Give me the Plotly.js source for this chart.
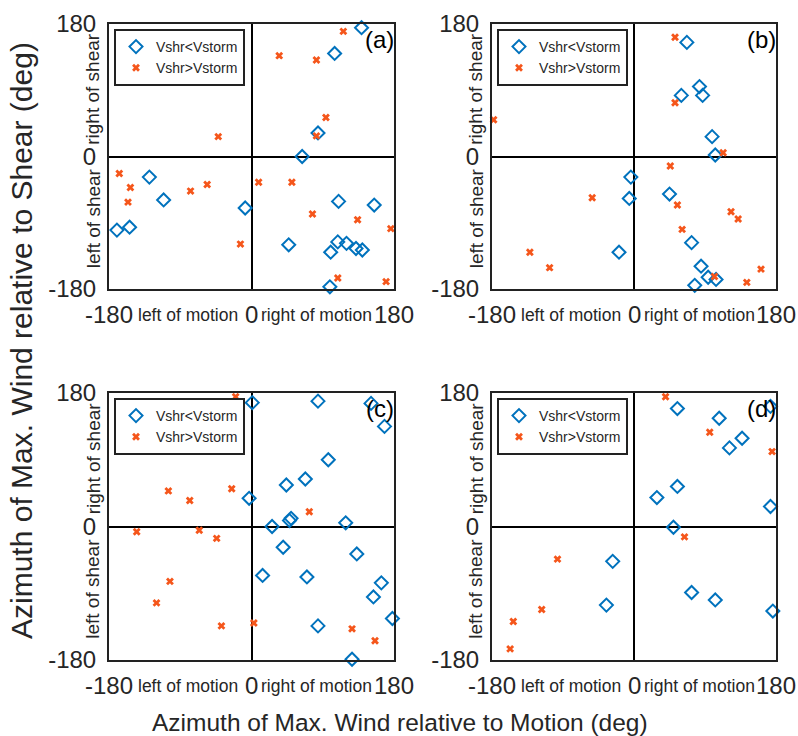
<!DOCTYPE html>
<html>
<head>
<meta charset="utf-8">
<script src="https://cdn.plot.ly/plotly-3.0.1.min.js"></script>
<style>html,body{margin:0;padding:0;background:#fff;}#chart{width:798px;height:736px;}</style>
</head>
<body>
<div id="chart"></div>
<script>
// ---- Data ----
const panelLabels = ["(a)", "(b)", "(c)", "(d)"];
const seriesNames = ["Vshr<Vstorm", "Vshr>Vstorm"];
const tickVals = [-180, 0, 180];
const tickText = ["-180", "0", "180"];
const xWords = ["left of motion", "right of motion"];
const yWords = ["right of shear", "left of shear"];

const aBlueX = [139, 105, 84, 64, -129, -111, -170, -154, -8, 110, 155, 47, 109, 120, 100, 132, 140, 99];
const aBlueY = [175, 140, 32, 0, -28, -59, -100, -96, -70, -61, -66, -120, -116, -118, -130, -125, -127, -177];
const aOrX = [116, 35, 82, 94, 82, -42, -167, -153, -156, -77, -56, 9, 51, 77, 134, 176, -14, 109, 170];
const aOrY = [170, 137, 131, 53, 28, 27, -23, -42, -62, -47, -38, -35, -35, -78, -86, -98, -119, -165, -170];

const bBlueX = [67, 60, 83, 87, 99, 103, -4, -6, -19, 45, 73, 85, 94, 104, 77];
const bBlueY = [155, 83, 95, 83, 27, 2, -28, -57, -130, -51, -117, -149, -164, -167, -175];
const bOrX = [52, 52, -178, 113, 46, -53, 55, 61, 123, 132, -132, -107, 102, 143, 161];
const bOrY = [162, 73, 50, 5, -13, -56, -66, -99, -75, -85, -130, -151, -163, -171, -153];

const cBlueX = [1, 84, 151, 168, 97, 68, 44, -3, 48, 50, 26, 119, 40, 133, 14, 70, 164, 154, 178, 84, 127];
const cBlueY = [167, 169, 166, 135, 90, 64, 56, 38, 8, 11, 0, 5, -28, -37, -66, -68, -76, -95, -124, -134, -179];
const cOrX = [-20, -105, -78, -25, 73, -145, -66, -44, -103, -120, -38, 3, 127, 156];
const cOrY = [175, 48, 35, 51, 20, -7, -5, -16, -74, -103, -134, -130, -138, -154];

const dBlueX = [55, 108, 173, 137, 121, 55, 29, 173, 50, -27, -35, 73, 103, 176];
const dBlueY = [159, 146, 162, 119, 106, 54, 39, 27, -1, -47, -106, -89, -99, -114];
const dOrX = [40, 96, 175, 64, -97, -117, -153, -157];
const dOrY = [175, 127, 101, -14, -44, -112, -128, -165];

const panels = [
  {bx: aBlueX, by: aBlueY, ox: aOrX, oy: aOrY},
  {bx: bBlueX, by: bBlueY, ox: bOrX, oy: bOrY},
  {bx: cBlueX, by: cBlueY, ox: cOrX, oy: cOrY},
  {bx: dBlueX, by: dBlueY, ox: dOrX, oy: dOrY}
];

// ---- Styling / layout ----
const W = 798, H = 736;
const REG = "'Liberation Sans', Arial, sans-serif";
const TXT = "#262626";
const BLUE = "#0072BD", ORANGE = "#F5561B";
// pixel boxes [left, right, top, bottom]
const boxes = [[109, 394, 24, 289], [492, 776, 24, 289], [109, 394, 393, 660], [492, 776, 393, 660]];

const traces = [];
const layout = {
  width: W, height: H,
  margin: {l: 0, r: 0, t: 0, b: 0},
  paper_bgcolor: "#fff", plot_bgcolor: "#fff",
  showlegend: true,
  annotations: [],
  font: {family: REG, color: TXT}
};

function ann(o) { layout.annotations.push(Object.assign({showarrow: false}, o)); }

panels.forEach((p, i) => {
  const n = i + 1;
  const xa = "x" + (n === 1 ? "" : n), ya = "y" + (n === 1 ? "" : n);
  const xk = "xaxis" + (n === 1 ? "" : n), yk = "yaxis" + (n === 1 ? "" : n);
  const lg = "legend" + (n === 1 ? "" : n);
  const [L, R, T, B] = boxes[i];
  traces.push({
    type: "scatter", mode: "markers", x: p.bx, y: p.by, xaxis: xa, yaxis: ya,
    name: seriesNames[0], legend: lg, cliponaxis: false,
    marker: {symbol: "diamond-open", size: 10, color: BLUE, line: {width: 2, color: BLUE}}
  });
  traces.push({
    type: "scatter", mode: "markers", x: p.ox, y: p.oy, xaxis: xa, yaxis: ya,
    name: seriesNames[1], legend: lg, cliponaxis: false,
    marker: {symbol: "x", size: 7, color: ORANGE, line: {width: 0}}
  });
  const axCommon = {
    range: [-180, 180], showgrid: false, zeroline: true, zerolinecolor: "#000", zerolinewidth: 2,
    showline: true, mirror: true, linecolor: "#222", linewidth: 2, ticks: "",
    tickmode: "array", tickvals: tickVals, ticktext: tickText, fixedrange: true
  };
  layout[xk] = Object.assign({}, axCommon, {
    domain: [L / W, R / W], anchor: ya, showticklabels: false
  });
  layout[yk] = Object.assign({}, axCommon, {
    domain: [1 - B / H, 1 - T / H], anchor: xa,
    tickfont: {family: REG, size: 24, color: TXT}, ticklabelstandoff: 6
  });
  layout[lg] = {
    x: (L + 5) / W, y: 1 - (T + 5) / H, xanchor: "left", yanchor: "top",
    bordercolor: "#222", borderwidth: 2, bgcolor: "#fff",
    font: {family: REG, size: 14, color: TXT}, tracegroupgap: 0
  };
  // panel label
  ann({xref: xa, yref: ya, x: 180, y: 180, xanchor: "right", yanchor: "top",
    xshift: 2, yshift: 0, text: panelLabels[i], font: {family: REG, size: 24, color: "#000"}});
  // bottom labels: numbers at tick values, words between
  const ys = -25;
  tickVals.forEach((v, k) => {
    ann({xref: xa, yref: ya, x: v, y: -180, xanchor: "center", yanchor: "middle",
      yshift: ys, text: tickText[k], font: {family: REG, size: 24, color: TXT}});
  });
  ann({xref: xa, yref: ya, x: -90, y: -180, xanchor: "center", yanchor: "middle",
    yshift: ys - 1, xshift: 8, text: xWords[0], font: {family: REG, size: 17.5, color: TXT}});
  ann({xref: xa, yref: ya, x: 90, y: -180, xanchor: "center", yanchor: "middle",
    yshift: ys - 1, xshift: -6, text: xWords[1], font: {family: REG, size: 17.5, color: TXT}});
  // y words (rotated)
  ann({xref: xa, yref: ya, x: -180, y: 92, xanchor: "center", yanchor: "middle",
    xshift: -16, text: yWords[0], textangle: -90, font: {family: REG, size: 19, color: TXT}});
  ann({xref: xa, yref: ya, x: -180, y: -84, xanchor: "center", yanchor: "middle",
    xshift: -16, text: yWords[1], textangle: -90, font: {family: REG, size: 19, color: TXT}});
});

// overall axis titles
ann({xref: "paper", yref: "paper", x: 400 / W, y: 1 - 722 / H, xanchor: "center", yanchor: "middle",
  text: "Azimuth of Max. Wind relative to Motion (deg)", font: {family: REG, size: 24.5, color: TXT}});
ann({xref: "paper", yref: "paper", x: 21 / W, y: 1 - 341 / H, xanchor: "center", yanchor: "middle",
  text: "Azimuth of Max. Wind relative to Shear (deg)", textangle: -90, font: {family: REG, size: 30, color: TXT}});

Plotly.newPlot("chart", traces, layout, {displayModeBar: false, staticPlot: true});
</script>
</body>
</html>
